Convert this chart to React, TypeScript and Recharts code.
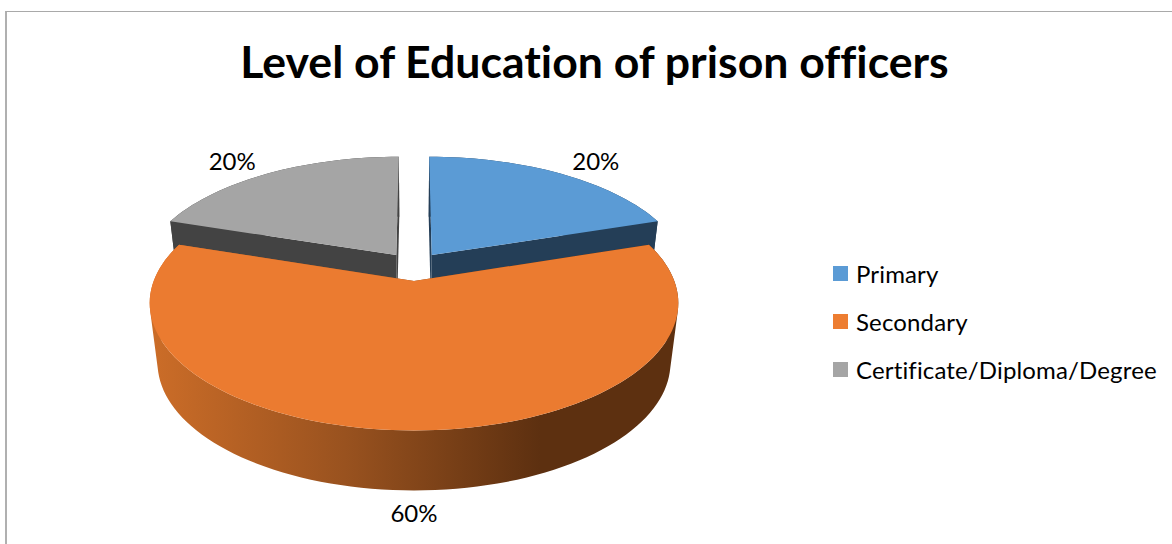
import { PieChart, Pie, Legend } from 'recharts';

const categories = ['Primary', 'Secondary', 'Certificate/Diploma/Degree'];
const shares = [20, 60, 20];
const topColors = ['#5b9bd5', '#eb7b30', '#a5a5a5'];
const swatchColors = ['#5b9bd5', '#ed7d31', '#a5a5a5'];
const wallColors = ['#243e57', 'url(#orangeWall)', '#434343'];

// painter's order: the big front slice has to go last so it covers the others
const paintOrder = [2, 0, 1];
const total = shares.reduce((a, b) => a + b, 0);
const firstAngle = 90 + (360 * shares[paintOrder[0]]) / total;

const sliceData = paintOrder.map((i) => ({
  name: categories[i],
  value: shares[i],
  fill: swatchColors[i],
  top: topColors[i],
  wall: wallColors[i],
}));

// 3D look of the disc
const TILT = 0.465;
const PERSPECTIVE = 0.17;
const EXPLODE = 0.12;
const DEPTH = 60;
const LOWER_SCALE = 0.97;
const LABEL_DROP = 64;

type Pt = [number, number];

function project(cx: number, cy: number, r: number, a: number, b: number, lower = false): Pt {
  const s = lower ? LOWER_SCALE : 1;
  const w = 1 + PERSPECTIVE * b;
  return [cx + (s * r * a) / w, cy + (lower ? DEPTH : 0) - (r * TILT * b) / w];
}

const toPath = (pts: Pt[]) =>
  pts.map((p, i) => `${i ? 'L' : 'M'}${p[0].toFixed(2)} ${p[1].toFixed(2)}`).join(' ') + ' Z';

// quads of the wall fold back at the silhouette, so wind them all the same way
// or the overlap cancels out under the nonzero fill rule
function windPositive(pts: Pt[]) {
  const area = pts.reduce((sum, p, i) => {
    const q = pts[(i + 1) % pts.length];
    return sum + p[0] * q[1] - q[0] * p[1];
  }, 0);
  return area < 0 ? [...pts].reverse() : pts;
}

function Wedge3D(props: any) {
  const { cx, cy, outerRadius: r, startAngle, endAngle, midAngle, payload } = props;
  const rad = Math.PI / 180;
  const ox = EXPLODE * Math.cos(midAngle * rad);
  const oy = EXPLODE * Math.sin(midAngle * rad);

  const angles: number[] = [];
  const steps = Math.ceil(Math.abs(endAngle - startAngle) / 2);
  for (let i = 0; i <= steps; i++) angles.push(startAngle + ((endAngle - startAngle) * i) / steps);

  const rim = (lower: boolean) =>
    angles.map((t) => project(cx, cy, r, ox + Math.cos(t * rad), oy + Math.sin(t * rad), lower));
  const hub = (lower: boolean) => project(cx, cy, r, ox, oy, lower);

  const upper = rim(false);
  const under = rim(true);
  // one quad per step, kept in a single path so the side wall has no seams
  const wall = upper
    .slice(1)
    .map((p, i) => toPath(windPositive([upper[i], p, under[i + 1], under[i]])))
    .join(' ');
  const face = (i: number) => [hub(false), upper[i], under[i], hub(true)];

  return (
    <g>
      <path d={wall} fill={payload.wall} />
      <path d={toPath(face(0))} fill={payload.wall} />
      <path d={toPath(face(upper.length - 1))} fill={payload.wall} />
      <path d={toPath([hub(false), ...upper])} fill={payload.top} />
    </g>
  );
}

function SliceLabel(props: any) {
  const { cx, cy, outerRadius: r, midAngle, percent } = props;
  const rad = Math.PI / 180;
  const a = 1.43 * Math.cos(midAngle * rad);
  const sin = Math.sin(midAngle * rad);
  const front = sin < 0;
  const [x, y] = project(cx, cy, r, a, (front ? 1.22 : 1.3) * sin, false);
  return (
    <text
      x={x}
      y={y + (front ? LABEL_DROP : 0)}
      textAnchor="middle"
      dominantBaseline="central"
      fontFamily="Lato"
      fontSize={24}
      fill="#000"
    >
      {`${Math.round(percent * 100)}%`}
    </text>
  );
}

function LegendList() {
  return (
    <div style={{ fontFamily: 'Lato', fontSize: 24, letterSpacing: 0.15, color: '#000', fontVariantLigatures: 'none' }}>
      {categories.map((name, i) => (
        <div key={name} style={{ display: 'flex', alignItems: 'center', height: 48, whiteSpace: 'nowrap' }}>
          <span style={{ width: 15, height: 15, background: swatchColors[i], marginRight: 8 }} />
          {name}
        </div>
      ))}
    </div>
  );
}

export default function App() {
  return (
    <div style={{ position: 'absolute', left: 0, top: 0, width: 1172, height: 544, overflow: 'hidden', background: '#fff' }}>
      <div
        style={{
          position: 'absolute',
          left: 5,
          top: 11,
          width: 1180,
          height: 560,
          borderTop: '1px solid #a9a9a9',
          borderLeft: '2px solid #b0b0b0',
        }}
      />
      <PieChart width={1172} height={544} margin={{ top: 0, right: 0, bottom: 0, left: 0 }}>
        <defs>
          <linearGradient id="orangeWall" gradientUnits="userSpaceOnUse" x1="150" y1="0" x2="540" y2="0">
            <stop offset="0%" stopColor="#cc6d28" />
            <stop offset="50%" stopColor="#99521f" />
            <stop offset="100%" stopColor="#5d3010" />
          </linearGradient>
        </defs>
        <text
          x={594.5}
          y={78}
          textAnchor="middle"
          fontFamily="Lato"
          fontWeight={700}
          fontSize={44.6}
          fill="#000"
          style={{ fontVariantLigatures: 'none' }}
        >
          Level of Education of prison officers
        </text>
        <Pie
          data={sliceData}
          dataKey="value"
          nameKey="name"
          cx={414}
          cy={266.4}
          innerRadius={0}
          outerRadius={255}
          startAngle={firstAngle}
          endAngle={firstAngle - 360}
          stroke="none"
          shape={Wedge3D}
          label={SliceLabel}
          labelLine={false}
          legendType="square"
          isAnimationActive={false}
        />
        <Legend
          content={LegendList}
          layout="vertical"
          wrapperStyle={{ position: 'absolute', left: 833, top: 249, width: 340 }}
        />
      </PieChart>
    </div>
  );
}
